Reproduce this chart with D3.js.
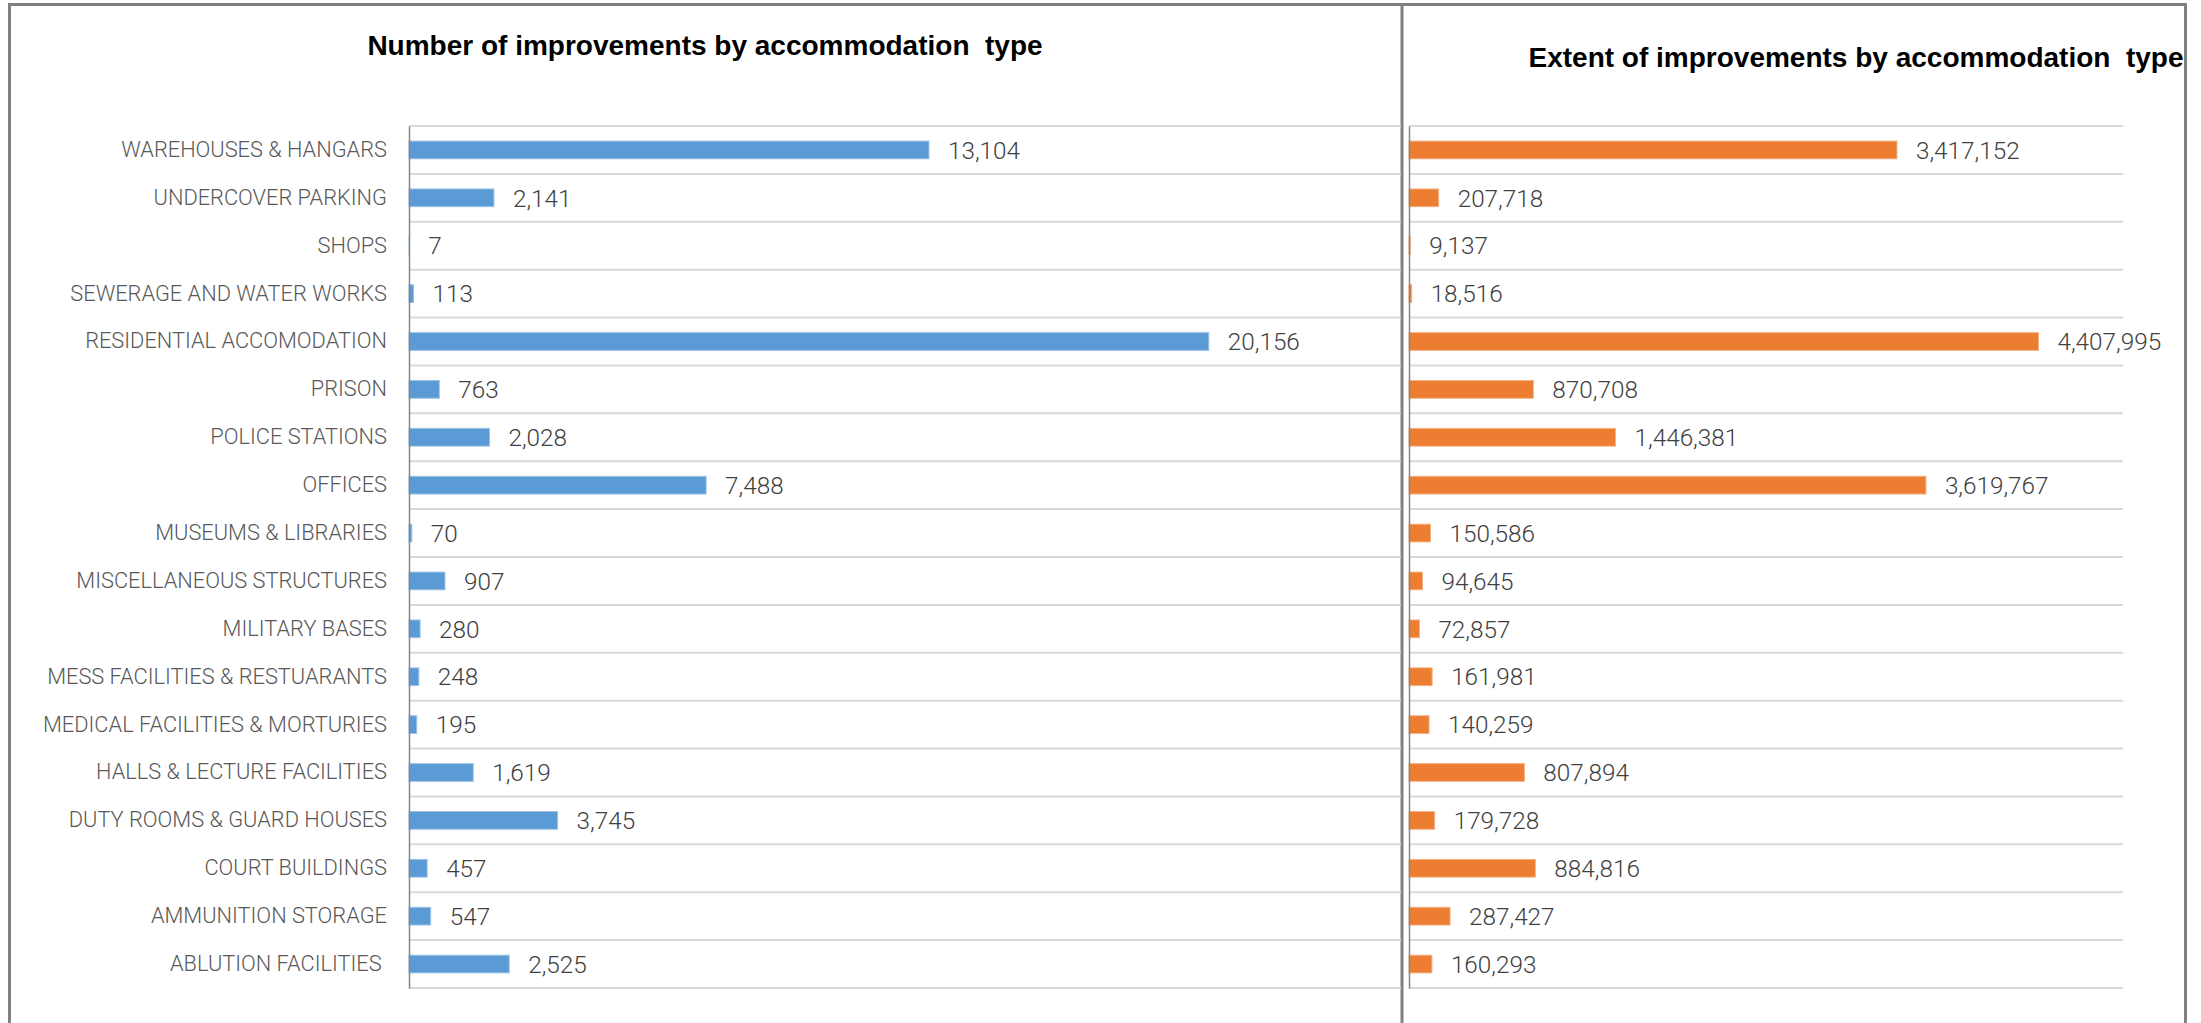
<!DOCTYPE html>
<html>
<head>
<meta charset="utf-8">
<script src="https://cdn.jsdelivr.net/npm/d3@7"></script>
<style>
  html, body { margin: 0; padding: 0; background: #fff; }
  svg { display: block; }
  text { font-family: "Liberation Sans", Arial, sans-serif; }
  .lbl { font-family: Roboto, "Liberation Sans", Arial, sans-serif; font-weight: 300; }
</style>
</head>
<body>
<svg id="chart" width="2201" height="1023"></svg>
<script>
// Accommodation types, top to bottom
const categories = [
  "WAREHOUSES & HANGARS",
  "UNDERCOVER PARKING",
  "SHOPS",
  "SEWERAGE AND WATER WORKS",
  "RESIDENTIAL ACCOMODATION",
  "PRISON",
  "POLICE STATIONS",
  "OFFICES",
  "MUSEUMS & LIBRARIES",
  "MISCELLANEOUS STRUCTURES",
  "MILITARY BASES",
  "MESS FACILITIES & RESTUARANTS",
  "MEDICAL FACILITIES & MORTURIES",
  "HALLS & LECTURE FACILITIES",
  "DUTY ROOMS & GUARD HOUSES",
  "COURT BUILDINGS",
  "AMMUNITION STORAGE",
  "ABLUTION FACILITIES "
];

// Number of improvements
const improvementCounts = [
  13104, 2141, 7, 113, 20156, 763, 2028, 7488, 70,
  907, 280, 248, 195, 1619, 3745, 457, 547, 2525
];

// Extent of improvements
const improvementExtents = [
  3417152, 207718, 9137, 18516, 4407995, 870708, 1446381, 3619767, 150586,
  94645, 72857, 161981, 140259, 807894, 179728, 884816, 287427, 160293
];

const titles = [
  "Number of improvements by accommodation  type",
  "Extent of improvements by accommodation  type"
];

const svg = d3.select("#chart");
const fmt = d3.format(",");

// Outer frame and the divider between the two panels
const frame = svg.append("g").attr("fill", "none").attr("stroke", "#808080");
frame.append("path")
  .attr("d", "M9.5,1030 V4.5 H2185.5 V1030")
  .attr("stroke-width", 3);
frame.append("line")
  .attr("x1", 1402).attr("x2", 1402).attr("y1", 4).attr("y2", 1030)
  .attr("stroke-width", 3);

const y = d3.scaleBand()
  .domain(categories)
  .range([126, 988])
  .padding(0);

const barH = y.bandwidth() * 0.37;

function panel(opts) {
  const x = d3.scaleLinear().domain(opts.domain).range(opts.range);
  const g = svg.append("g");

  // horizontal gridlines at band boundaries
  const bounds = categories.map(c => y(c)).concat([y.range()[1]]);
  g.append("g").selectAll("line")
    .data(bounds)
    .join("line")
    .attr("x1", opts.range[0]).attr("x2", opts.gridEnd)
    .attr("y1", d => d).attr("y2", d => d)
    .attr("stroke", "#d9d9d9")
    .attr("stroke-width", 2);

  // bars
  g.append("g").selectAll("rect")
    .data(opts.values)
    .join("rect")
    .attr("x", x(0))
    .attr("y", (d, i) => y(categories[i]) + (y.bandwidth() - barH) / 2)
    .attr("width", d => Math.max(0, x(d) - x(0)))
    .attr("height", barH)
    .attr("fill", opts.color)
    .attr("stroke", opts.edge)
    .attr("stroke-width", 1);

  // value labels
  g.append("g").selectAll("text")
    .data(opts.values)
    .join("text")
    .attr("class", "lbl")
    .attr("x", d => x(d) + 19)
    .attr("y", (d, i) => y(categories[i]) + y.bandwidth() / 2)
    .attr("dy", "0.36em")
    .attr("font-size", 24.3)
    .attr("fill", "#404040")
    .text(d => fmt(d));

  // category axis
  const axis = d3.axisLeft(y).tickSize(0).tickPadding(22);
  const ax = g.append("g")
    .attr("transform", `translate(${opts.range[0]},0)`)
    .call(axis);
  ax.attr("font-family", null).attr("font-size", null);
  ax.select(".domain").attr("stroke", "#868686").attr("stroke-width", 1.5);
  if (!opts.showLabels) {
    ax.selectAll(".tick").remove();
  } else {
    ax.selectAll("text")
      .attr("class", "lbl")
      .attr("font-size", 21.8)
      .attr("fill", "#595959")
      .style("white-space", "pre");
  }

  // panel title
  svg.append("text")
    .attr("x", opts.titleX)
    .attr("y", opts.titleY)
    .attr("text-anchor", "middle")
    .attr("font-size", 28)
    .attr("font-weight", "bold")
    .attr("fill", "#000")
    .style("white-space", "pre")
    .text(opts.title);
}

panel({
  values: improvementCounts,
  domain: [0, 25000],
  range: [409, 1401],
  gridEnd: 1401,
  color: "#5b9bd5",
  edge: "#9cc3e6",
  showLabels: true,
  title: titles[0],
  titleX: 705,
  titleY: 55
});

panel({
  values: improvementExtents,
  domain: [0, 5000000],
  range: [1409, 2123],
  gridEnd: 2123,
  color: "#ed7d31",
  edge: "#f4b183",
  showLabels: false,
  title: titles[1],
  titleX: 1856,
  titleY: 67
});
</script>
</body>
</html>
